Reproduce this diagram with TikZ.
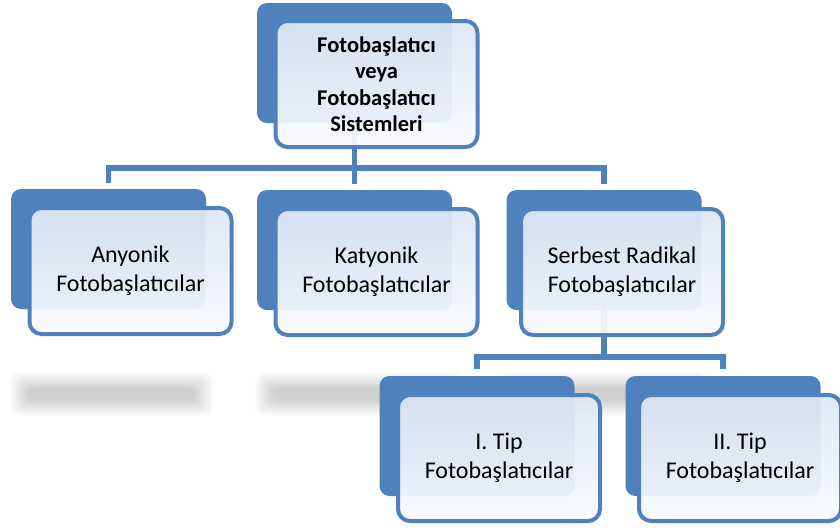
\documentclass[tikz,border=0pt]{standalone}
\usepackage{fontspec}
\setmainfont{Carlito}
\usetikzlibrary{backgrounds}
\definecolor{boxblue}{RGB}{79,129,189}
\definecolor{facetop}{RGB}{222,231,244}
\definecolor{facebottom}{RGB}{248,250,253}

\begin{document}
\begin{tikzpicture}[x=1pt, y=-1pt,
    back/.style={fill=boxblue, rounded corners=10pt, minimum width=195pt,
        minimum height=120pt, inner sep=0pt},
    front/.style={draw=boxblue, line width=4pt, rounded corners=12pt,
        top color=facetop, bottom color=facebottom, fill opacity=0.94,
        text opacity=1, minimum width=202pt, minimum height=126pt,
        inner sep=0pt, align=center, font=\fontsize{24}{29}\selectfont},
    link/.style={draw=boxblue, line width=5.5pt},
    ]
    \useasboundingbox (0,0) rectangle (840,530);

    \node[back] (tb) at (354.5,63) {};
    \node[front, font=\fontsize{22.5}{26.5}\selectfont\bfseries] (tf) at (376.5,84)
        {Fotobaşlatıcı\\veya\\Fotobaşlatıcı\\Sistemleri};

    \node[back] (ab) at (108.5,249) {};
    \node[front] (af) at (130.5,271) {Anyonik\\Fotobaşlatıcılar};
    \node[back] (kb) at (354.5,250) {};
    \node[front] (kf) at (376.5,272) {Katyonik\\Fotobaşlatıcılar};
    \node[back] (sb) at (604,250) {};
    \node[front] (sf) at (622,272) {Serbest Radikal\\Fotobaşlatıcılar};

    \node[back] (ib) at (477,436) {};
    \node[front] (if) at (499,458) {I. Tip\\Fotobaşlatıcılar};
    \node[back] (iib) at (723,436) {};
    \node[front] (iif) at (740,458) {II. Tip\\Fotobaşlatıcılar};

    \begin{scope}[on background layer]
        \foreach \l/\r in {20/203, 265/452, 510/697}
            \foreach \i in {0,...,15}
                \fill[black, opacity=0.0105, rounded corners=8pt]
                    (\l-10+\i*1.2, 372+\i*1.1) rectangle (\r+10-\i*1.2, 416-\i*1.1);

        \coordinate (j1) at (tb.south |- 0,168);
        \coordinate (j2) at (sb.south |- 0,357);
        \draw[link] (tb.south) -- (j1);
        \draw[link, shorten <=6pt, shorten >=6pt] (ab.north) |- (j1) -| (sb.north);
        \draw[link, shorten >=6pt] (j1) -- (kb.north);
        \draw[link] (sb.south) -- (j2);
        \draw[link, shorten <=7pt, shorten >=7pt] (ib.north) |- (j2) -| (iib.north);
    \end{scope}
\end{tikzpicture}
\end{document}
